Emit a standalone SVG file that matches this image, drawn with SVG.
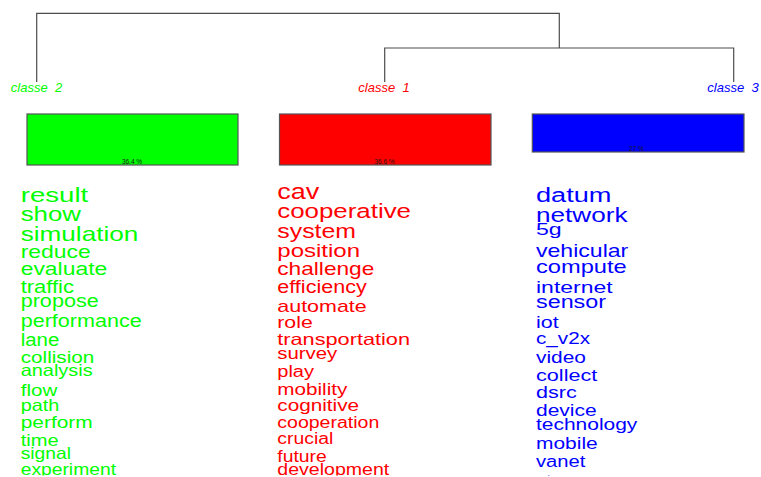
<svg xmlns="http://www.w3.org/2000/svg" width="761" height="477" viewBox="0 0 761 477">
  <style>
    .tree { fill: none; stroke: #4d4d4d; stroke-width: 1.2; }
    .lab { font-family: "Liberation Sans", Arial, sans-serif; font-style: italic; font-size: 13px; text-anchor: middle; white-space: pre; }
    .box { stroke: #555555; stroke-width: 1.2; }
    .pct { font-family: "Liberation Sans", Arial, sans-serif; font-size: 6.5px; fill: #1a1a1a; text-anchor: middle; }
    .w { font-family: "Liberation Sans", Arial, sans-serif; }
    .g { fill: #00ff00; }
    .r { fill: #ff0000; }
    .b { fill: #0000ff; }
  </style>
  <defs>
    <clipPath id="page">
      <rect x="0" y="0" width="761" height="475.5"/>
    </clipPath>
  </defs>
  <rect width="761" height="477" fill="#ffffff"/>

  <!-- dendrogram -->
  <g id="connectors">
    <path class="tree" d="M36.7,82 V13.3 H559.3 V48"/>
    <path class="tree" d="M384.7,82 V48 H733.7 V82"/>
  </g>

  <!-- class 2 -->
  <g id="classe-2">
    <text class="lab g" x="36.5" y="91.5">classe  2</text>
    <rect class="box" x="27" y="114" width="211" height="51" fill="#00ff00"/>
    <text class="pct" x="132" y="164">36.4 %</text>
    <g class="w g" clip-path="url(#page)">
      <text x="20.7" y="201.7" font-size="20" textLength="67.6" lengthAdjust="spacingAndGlyphs">result</text>
      <text x="20.7" y="220.5" font-size="20" textLength="60.3" lengthAdjust="spacingAndGlyphs">show</text>
      <text x="20.7" y="241" font-size="21" textLength="117.6" lengthAdjust="spacingAndGlyphs">simulation</text>
      <text x="20.7" y="258.3" font-size="18.5" textLength="70" lengthAdjust="spacingAndGlyphs">reduce</text>
      <text x="20.7" y="275" font-size="17.5" textLength="86.6" lengthAdjust="spacingAndGlyphs">evaluate</text>
      <text x="20.7" y="293.3" font-size="17.5" textLength="53.3" lengthAdjust="spacingAndGlyphs">traffic</text>
      <text x="20.7" y="306.7" font-size="17.5" textLength="78" lengthAdjust="spacingAndGlyphs">propose</text>
      <text x="20.7" y="326.7" font-size="17.5" textLength="121" lengthAdjust="spacingAndGlyphs">performance</text>
      <text x="20.7" y="346" font-size="17.5" textLength="38.6" lengthAdjust="spacingAndGlyphs">lane</text>
      <text x="20.7" y="363.3" font-size="16.5" textLength="73.6" lengthAdjust="spacingAndGlyphs">collision</text>
      <text x="20.7" y="376" font-size="16.5" textLength="72" lengthAdjust="spacingAndGlyphs">analysis</text>
      <text x="20.7" y="396" font-size="16.5" textLength="36.6" lengthAdjust="spacingAndGlyphs">flow</text>
      <text x="20.7" y="411" font-size="16.5" textLength="38.6" lengthAdjust="spacingAndGlyphs">path</text>
      <text x="20.7" y="428.3" font-size="16.5" textLength="72" lengthAdjust="spacingAndGlyphs">perform</text>
      <text x="20.7" y="446" font-size="16.5" textLength="38" lengthAdjust="spacingAndGlyphs">time</text>
      <text x="20.7" y="459.3" font-size="16.5" textLength="50.3" lengthAdjust="spacingAndGlyphs">signal</text>
      <text x="20.7" y="474.5" font-size="16.5" textLength="95.3" lengthAdjust="spacingAndGlyphs">experiment</text>
    </g>
  </g>

  <!-- class 1 -->
  <g id="classe-1">
    <text class="lab r" x="384" y="91.5">classe  1</text>
    <rect class="box" x="279.5" y="114" width="211.5" height="51" fill="#ff0000"/>
    <text class="pct" x="384.5" y="164">36.6 %</text>
    <g class="w r" clip-path="url(#page)">
      <text x="277.3" y="199" font-size="22" textLength="42" lengthAdjust="spacingAndGlyphs">cav</text>
      <text x="277.3" y="217.5" font-size="20.5" textLength="133.7" lengthAdjust="spacingAndGlyphs">cooperative</text>
      <text x="277.3" y="237.5" font-size="20.5" textLength="78.7" lengthAdjust="spacingAndGlyphs">system</text>
      <text x="277.3" y="257.3" font-size="18.5" textLength="82.7" lengthAdjust="spacingAndGlyphs">position</text>
      <text x="277.3" y="275" font-size="18.5" textLength="97" lengthAdjust="spacingAndGlyphs">challenge</text>
      <text x="277.3" y="292.7" font-size="17.5" textLength="89.4" lengthAdjust="spacingAndGlyphs">efficiency</text>
      <text x="277.3" y="311.7" font-size="17" textLength="89.4" lengthAdjust="spacingAndGlyphs">automate</text>
      <text x="277.3" y="328.3" font-size="16.5" textLength="35.4" lengthAdjust="spacingAndGlyphs">role</text>
      <text x="277.3" y="345" font-size="16.5" textLength="132.7" lengthAdjust="spacingAndGlyphs">transportation</text>
      <text x="277.3" y="359" font-size="16.5" textLength="60" lengthAdjust="spacingAndGlyphs">survey</text>
      <text x="277.3" y="377.3" font-size="16" textLength="36.7" lengthAdjust="spacingAndGlyphs">play</text>
      <text x="277.3" y="395" font-size="16" textLength="70" lengthAdjust="spacingAndGlyphs">mobility</text>
      <text x="277.3" y="410.7" font-size="16" textLength="81.7" lengthAdjust="spacingAndGlyphs">cognitive</text>
      <text x="277.3" y="427.7" font-size="16" textLength="102" lengthAdjust="spacingAndGlyphs">cooperation</text>
      <text x="277.3" y="444.3" font-size="16" textLength="56" lengthAdjust="spacingAndGlyphs">crucial</text>
      <text x="277.3" y="461.7" font-size="16.5" textLength="49.4" lengthAdjust="spacingAndGlyphs">future</text>
      <text x="277.3" y="475.3" font-size="16.5" textLength="112" lengthAdjust="spacingAndGlyphs">development</text>
    </g>
  </g>

  <!-- class 3 -->
  <g id="classe-3">
    <text class="lab b" x="733" y="91.5">classe  3</text>
    <rect class="box" x="532.3" y="114" width="211.7" height="38" fill="#0000ff"/>
    <text class="pct" x="636.5" y="151">27 %</text>
    <g class="w b" clip-path="url(#page)">
      <text x="536" y="202.2" font-size="20" textLength="75.5" lengthAdjust="spacingAndGlyphs">datum</text>
      <text x="536" y="222.2" font-size="21" textLength="91.5" lengthAdjust="spacingAndGlyphs">network</text>
      <text x="536" y="235" font-size="16" textLength="25.7" lengthAdjust="spacingAndGlyphs">5g</text>
      <text x="536" y="257.3" font-size="18.5" textLength="92.3" lengthAdjust="spacingAndGlyphs">vehicular</text>
      <text x="536" y="273.3" font-size="18.5" textLength="90.7" lengthAdjust="spacingAndGlyphs">compute</text>
      <text x="536" y="292.7" font-size="17" textLength="76.7" lengthAdjust="spacingAndGlyphs">internet</text>
      <text x="536" y="308.3" font-size="17.5" textLength="70" lengthAdjust="spacingAndGlyphs">sensor</text>
      <text x="536" y="328.3" font-size="16.5" textLength="22.7" lengthAdjust="spacingAndGlyphs">iot</text>
      <text x="536" y="344" font-size="16" textLength="54" lengthAdjust="spacingAndGlyphs">c_v2x</text>
      <text x="536" y="363.3" font-size="17" textLength="50" lengthAdjust="spacingAndGlyphs">video</text>
      <text x="536" y="381" font-size="16.5" textLength="61.3" lengthAdjust="spacingAndGlyphs">collect</text>
      <text x="536" y="398.3" font-size="16.5" textLength="40.7" lengthAdjust="spacingAndGlyphs">dsrc</text>
      <text x="536" y="416" font-size="16.5" textLength="60.7" lengthAdjust="spacingAndGlyphs">device</text>
      <text x="536" y="430" font-size="16" textLength="101.3" lengthAdjust="spacingAndGlyphs">technology</text>
      <text x="536" y="449.3" font-size="16" textLength="61.7" lengthAdjust="spacingAndGlyphs">mobile</text>
      <text x="536" y="466.7" font-size="16" textLength="49.3" lengthAdjust="spacingAndGlyphs">vanet</text>
      <text x="536" y="485.5" font-size="16" textLength="61" lengthAdjust="spacingAndGlyphs">stream</text>
    </g>
  </g>
</svg>
